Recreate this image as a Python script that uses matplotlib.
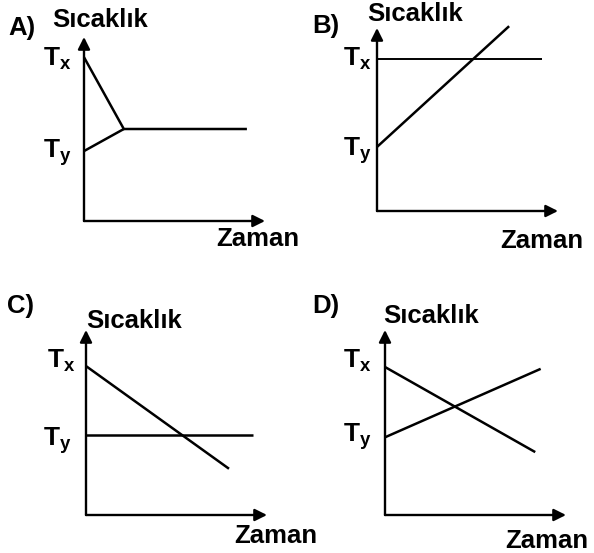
import matplotlib
matplotlib.use("Agg")
import matplotlib.pyplot as plt

W, H = 594, 553

plt.rcParams["font.family"] = ["Liberation Sans", "DejaVu Sans"]
plt.rcParams["font.weight"] = "bold"
plt.rcParams["mathtext.fontset"] = "custom"
plt.rcParams["mathtext.bf"] = "Liberation Sans:bold"
plt.rcParams["mathtext.rm"] = "Liberation Sans:bold"

# --- data (time, temperature), axes run 0..10 in both directions ---
a_x_time = [0, 2.2, 9.0]
a_x_temp = [8.9, 5.0, 5.0]
a_y_time = [0, 2.2]
a_y_temp = [3.8, 5.0]

b_x_time = [0, 9.1]
b_x_temp = [8.3, 8.3]
b_y_time = [0, 7.3]
b_y_temp = [3.5, 10.1]

c_x_time = [0, 7.9]
c_x_temp = [8.05, 2.5]
c_y_time = [0, 9.2]
c_y_temp = [4.3, 4.3]

d_x_time = [0, 8.3]
d_x_temp = [8.0, 3.4]
d_y_time = [0, 8.6]
d_y_temp = [4.2, 7.9]

fig = plt.figure(figsize=(W / 100, H / 100), dpi=100)


def fx(x):
    return x / W


def fy(y):
    return 1 - y / H


def panel(ox, oy, xlen, ylen, series, lws):
    ax = fig.add_axes([fx(ox), fy(oy), xlen / W, ylen / H])
    ax.set_xlim(0, 10)
    ax.set_ylim(0, 10)
    ax.axis("off")
    arrow = dict(arrowstyle="-|>", lw=1.7, color="black", mutation_scale=18,
                 shrinkA=0, shrinkB=0)
    ax.annotate("", xy=(1, 0), xytext=(0, 0), xycoords="axes fraction",
                arrowprops=arrow)
    ax.annotate("", xy=(0, 1), xytext=(0, 0), xycoords="axes fraction",
                arrowprops=arrow)
    for (t, v), lw in zip(series, lws):
        ax.plot(t, v, color="black", lw=lw, clip_on=False,
                solid_capstyle="butt", solid_joinstyle="miter")
    return ax


panel(84, 221, 181, 184, [(a_x_time, a_x_temp), (a_y_time, a_y_temp)], [1.8, 1.8])
panel(377, 211, 181, 183, [(b_x_time, b_x_temp), (b_y_time, b_y_temp)], [1.4, 1.8])
panel(86, 515, 181, 185, [(c_x_time, c_x_temp), (c_y_time, c_y_temp)], [1.8, 1.8])
panel(385, 515, 181, 185, [(d_x_time, d_x_temp), (d_y_time, d_y_temp)], [1.8, 1.8])


def label(x, y, s, size=18.5, ha="left"):
    fig.text(fx(x), fy(y), s, fontsize=size, fontweight="bold",
             ha=ha, va="baseline")


# letters, axis titles
for x, y, s in [(8, 35, "A)"), (312, 33, "B)"), (7, 313, "C)"), (312, 313, "D)")]:
    label(x, y, s)
for x, y in [(52, 27), (367, 21), (86, 328), (383, 323)]:
    label(x, y, "Sıcaklık")
for x, y in [(216, 246), (500, 248), (234, 543), (505, 548)]:
    label(x, y, "Zaman")

tx = r"$\mathbf{T}_\mathbf{x}$"
ty = r"$\mathbf{T}_\mathbf{y}$"
for x, y, s in [(72, 65, tx), (72, 157, ty), (372, 65, tx), (372, 155, ty),
                (76, 367, tx), (72, 445, ty), (372, 367, tx), (372, 442, ty)]:
    label(x, y, s, size=19, ha="right")

fig.savefig("out.png", dpi=100)
